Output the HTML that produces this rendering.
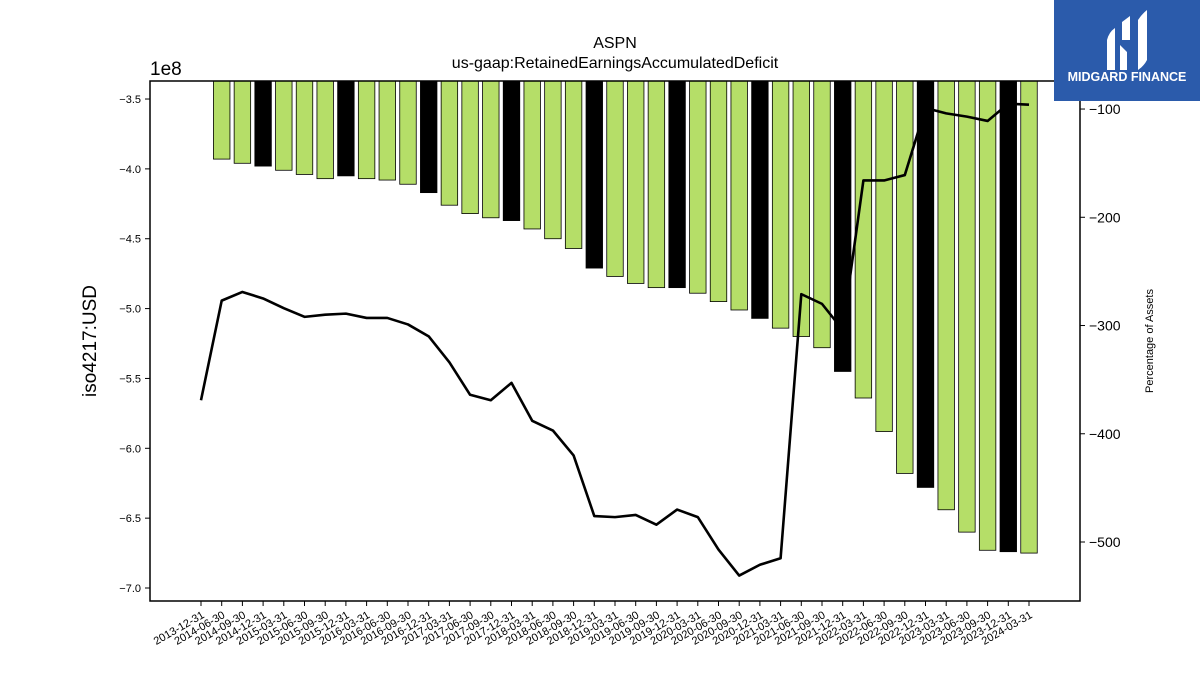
<!DOCTYPE html>
<html><head><meta charset="utf-8"><style>
body{margin:0;background:#fff;}
svg text{font-family:"Liberation Sans","DejaVu Sans",sans-serif;}
</style></head><body>
<svg id="chart" width="1200" height="675" xmlns="http://www.w3.org/2000/svg">
<text x="615" y="48" font-size="16" text-anchor="middle">ASPN</text>
<text x="615" y="68" font-size="16" text-anchor="middle">us-gaap:RetainedEarningsAccumulatedDeficit</text>
<text x="150" y="75" font-size="19">1e8</text>
<text transform="translate(96,341) rotate(-90)" font-size="19" text-anchor="middle">iso4217:USD</text>
<text transform="translate(1153,341) rotate(-90)" font-size="11" text-anchor="middle">Percentage of Assets</text>
<g id="bars"></g>
<g id="line"></g>
<g id="bars2"></g>
<g id="axes"></g>
<g>
<rect x="1054" y="0" width="146" height="101" fill="#2b5bab"/>
<path d="M1107 70 L1107 40 Q1109 32 1115 28 L1115 70 Z M1120 70 L1120 45 L1127 52 L1127 70 Z M1138 70 L1138 20 Q1142 14 1147 10 L1147 60 Q1144 66 1138 70 Z M1122 40 L1122 22 L1130 16 L1130 40 Z" fill="#fff"/>
<text x="1127" y="81" font-size="12.5" font-weight="bold" fill="#fff" text-anchor="middle">MIDGARD FINANCE</text>
</g>
</svg>
<script>
const categories=["2013-12-31","2014-06-30","2014-09-30","2014-12-31","2015-03-31","2015-06-30","2015-09-30","2015-12-31","2016-03-31","2016-06-30","2016-09-30","2016-12-31","2017-03-31","2017-06-30","2017-09-30","2017-12-31","2018-03-31","2018-06-30","2018-09-30","2018-12-31","2019-03-31","2019-06-30","2019-09-30","2019-12-31","2020-03-31","2020-06-30","2020-09-30","2020-12-31","2021-03-31","2021-06-30","2021-09-30","2021-12-31","2022-03-31","2022-06-30","2022-09-30","2022-12-31","2023-03-31","2023-06-30","2023-09-30","2023-12-31","2024-03-31"];
const deficitValues=[null,-3.93,-3.96,-3.98,-4.01,-4.04,-4.07,-4.05,-4.07,-4.08,-4.11,-4.17,-4.26,-4.32,-4.35,-4.37,-4.43,-4.50,-4.57,-4.71,-4.77,-4.82,-4.85,-4.85,-4.89,-4.95,-5.01,-5.07,-5.14,-5.20,-5.28,-5.45,-5.64,-5.88,-6.18,-6.28,-6.44,-6.60,-6.73,-6.74,-6.75];
const pctAssets=[-369,-277,-269,-275,-284,-292,-290,-289,-293,-293,-299,-310,-334,-364,-369,-353,-388,-397,-420,-476,-477,-475,-484,-470,-477,-507,-531,-521,-515,-271,-280,-304,-166,-166,-161,-99,-104,-107,-111,-95,-96];
const leftTicks=[-3.5,-4.0,-4.5,-5.0,-5.5,-6.0,-6.5,-7.0];
const rightTicks=[-100,-200,-300,-400,-500];

const NS="http://www.w3.org/2000/svg";
const L=150,R=1080,T=81,B=601;
const yL=v=>T+(-3.371-v)/(-3.371+7.093)*(B-T);
const yR=v=>T+(-74.1-v)/(-74.1+554.5)*(B-T);
const x=i=>201+i*(1029-201)/(categories.length-1);
function mk(tag,attrs,parent){const e=document.createElementNS(NS,tag);for(const k in attrs)e.setAttribute(k,attrs[k]);parent.appendChild(e);return e;}
const g1=document.getElementById('bars'),g2=document.getElementById('bars2'),gl=document.getElementById('line'),ga=document.getElementById('axes');
const bw=16.5;
deficitValues.forEach((v,i)=>{
 if(v===null)return;
 const q4=categories[i].endsWith('12-31');
 const r=mk('rect',{x:x(i)-bw/2,y:T,width:bw,height:yL(v)-T,fill:q4?'#000':'#b5de68',stroke:'#000','stroke-width':0.8},q4?g2:g1);
 
 
});
const pts=pctAssets.map((v,i)=>x(i)+','+yR(v)).join(' ');
const pl=mk('polyline',{points:pts,fill:'none',stroke:'#000','stroke-width':2.6,'stroke-linejoin':'round'},gl);


const fr=mk('rect',{x:L,y:T,width:R-L,height:B-T,fill:'none',stroke:'#000','stroke-width':1.5},ga);


leftTicks.forEach(v=>{
 const y=yL(v);
 mk('line',{x1:L-5,x2:L,y1:y,y2:y,stroke:'#000'},ga);
 const t=mk('text',{x:L-9,y:y+4,'font-size':11,'text-anchor':'end'},ga);
 t.textContent=v.toFixed(1).replace('-','−');
 
 
});
rightTicks.forEach(v=>{
 const y=yR(v);
 mk('line',{x1:R,x2:R+5,y1:y,y2:y,stroke:'#000'},ga);
 const t=mk('text',{x:R+9,y:y+5,'font-size':14},ga);
 t.textContent=String(v).replace('-','−');
 
 
});
categories.forEach((c,i)=>{
 const xi=x(i);
 mk('line',{x1:xi,x2:xi,y1:B,y2:B+5,stroke:'#000'},ga);
 const t=mk('text',{transform:`translate(${xi+4},${B+16}) rotate(-30)`,'font-size':11,'text-anchor':'end'},ga);
 t.textContent=c;
 
 
});
</script>
</body></html>
